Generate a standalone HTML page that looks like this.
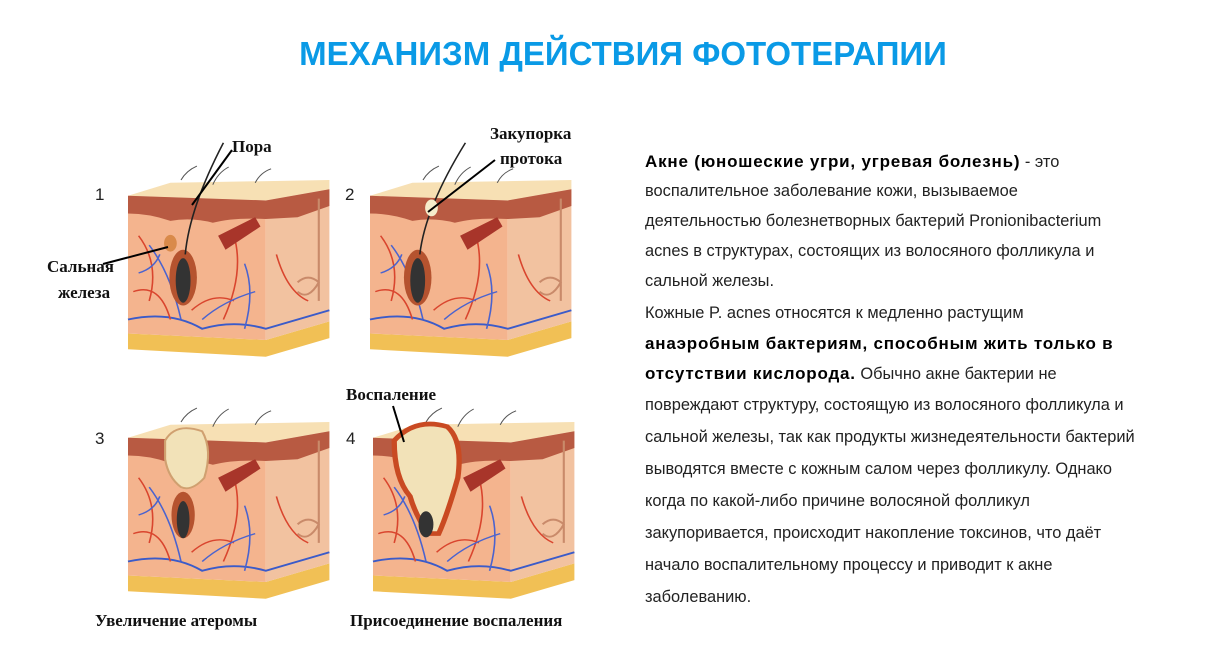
<!DOCTYPE html>
<html><head><meta charset="utf-8"><style>
body{margin:0;width:1211px;height:668px;background:#fff;position:relative;overflow:hidden;font-family:"Liberation Sans",sans-serif}
.t{position:absolute;left:0;width:1246px;top:35px;text-align:center;color:#0a9ae6;font-weight:bold;font-size:33px}
.l{position:absolute;left:645px;font-size:16.4px;color:#222;white-space:nowrap}
.l b{color:#000;letter-spacing:0.8px;font-size:17px}
.lab{font-family:"Liberation Serif",serif;font-weight:bold;font-size:17px;fill:#111}
.num{font-family:"Liberation Sans",sans-serif;font-size:17px;fill:#222}
</style></head><body>
<div class="t">МЕХАНИЗМ ДЕЙСТВИЯ ФОТОТЕРАПИИ</div>
<svg width="620" height="668" style="position:absolute;left:0;top:0">
<defs>
<g id="blk">
<polygon points="0,17 40,3 190,0 190,10 130,22" fill="#f7e0b4"/>
<polygon points="0,165 130,172 190,152 190,170 130,190 0,182" fill="#f1c055"/>
<polygon points="0,17 130,22 130,172 0,165" fill="#f4b48e"/>
<polygon points="130,22 190,10 190,152 130,172" fill="#f2c2a0"/>
<path d="M0,17 L130,22 L190,10 L190,28 L160,40 L130,42 Q100,40 80,46 Q60,40 40,44 Q20,36 0,36 Z" fill="#b85a42"/>
<path d="M0,150 Q40,140 70,160 Q100,150 130,160 L190,140" stroke="#3b5bc9" stroke-width="2" fill="none"/>
<path d="M10,60 Q30,90 20,130 M100,60 Q110,100 90,150 M140,80 Q150,120 170,130 M60,140 Q80,120 100,130 M5,120 Q30,110 40,150" stroke="#d9452e" stroke-width="1.5" fill="none"/>
<path d="M20,70 Q40,100 50,150 M110,90 Q120,120 110,160 M70,150 Q90,130 120,120 M10,100 Q25,95 30,80" stroke="#4a63cf" stroke-width="1.5" fill="none"/>
<path d="M180,20 L180,130 M160,110 q10,-10 20,0 q-10,20 -20,10" stroke="#c98a6a" stroke-width="2" fill="none"/>
<path d="M85,60 L120,40 L125,50 L92,75 Z" fill="#a8352a"/>
<path d="M50,0 Q55,-10 65,-15 M80,5 Q85,-8 95,-14 M120,3 Q125,-8 135,-12" stroke="#555" stroke-width="1" fill="none"/>
</g>
</defs>
<g transform="translate(128,180) scale(1.06,0.93)"><use href="#blk"/>
<ellipse cx="52" cy="105" rx="13" ry="30" fill="#b5532f"/><ellipse cx="52" cy="108" rx="7" ry="24" fill="#333"/>
<path d="M54,80 Q58,30 90,-40" stroke="#222" stroke-width="1.5" fill="none"/>
<ellipse cx="40" cy="68" rx="6" ry="9" fill="#d98a4a"/></g>
<g transform="translate(370,180) scale(1.06,0.93)"><use href="#blk"/>
<ellipse cx="45" cy="105" rx="13" ry="30" fill="#b5532f"/><ellipse cx="45" cy="108" rx="7" ry="24" fill="#333"/>
<path d="M47,80 Q52,30 90,-40" stroke="#222" stroke-width="1.5" fill="none"/>
<ellipse cx="58" cy="30" rx="6" ry="9" fill="#f6eccb"/></g>
<g transform="translate(128,422) scale(1.06,0.93)"><use href="#blk"/>
<ellipse cx="52" cy="100" rx="11" ry="25" fill="#b5532f"/><ellipse cx="52" cy="105" rx="6" ry="20" fill="#333"/>
<path d="M35,20 Q45,0 70,10 Q80,30 72,60 Q60,75 50,70 Q38,60 35,40 Z" fill="#f2e2b8" stroke="#d0a070" stroke-width="2"/></g>
<g transform="translate(373,422) scale(1.06,0.93)"><use href="#blk"/>
<path d="M20,20 Q40,-5 70,5 Q85,20 80,60 Q70,100 62,120 L52,120 Q40,100 35,80 Q20,60 20,20 Z" fill="#f2e2b8" stroke="#c94a22" stroke-width="5"/>
<ellipse cx="50" cy="110" rx="7" ry="14" fill="#333"/></g>
<text class="num" x="95" y="200">1</text><text class="num" x="345" y="200">2</text>
<text class="num" x="95" y="444">3</text><text class="num" x="346" y="444">4</text>
<text class="lab" x="232" y="152">Пора</text>
<line x1="232" y1="150" x2="192" y2="205" stroke="#000" stroke-width="2"/>
<text class="lab" x="47" y="272">Сальная</text><text class="lab" x="58" y="298">железа</text>
<line x1="103" y1="264" x2="168" y2="247" stroke="#000" stroke-width="2"/>
<text class="lab" x="490" y="139">Закупорка</text><text class="lab" x="500" y="164">протока</text>
<line x1="495" y1="160" x2="428" y2="212" stroke="#000" stroke-width="2"/>
<text class="lab" x="346" y="400">Воспаление</text>
<line x1="393" y1="406" x2="404" y2="442" stroke="#000" stroke-width="2"/>
<text class="lab" x="95" y="626">Увеличение атеромы</text>
<text class="lab" x="350" y="626">Присоединение воспаления</text>
</svg>
<div class="l" style="top:152px"><b>Акне (юношеские угри, угревая болезнь)</b> - это</div>
<div class="l" style="top:182px">воспалительное заболевание кожи, вызываемое</div>
<div class="l" style="top:212px">деятельностью болезнетворных бактерий Pronionibacterium</div>
<div class="l" style="top:242px">acnes в структурах, состоящих из волосяного фолликула и</div>
<div class="l" style="top:272px">сальной железы.</div>
<div class="l" style="top:304px">Кожные P. acnes относятся к медленно растущим</div>
<div class="l" style="top:334px"><b>анаэробным бактериям, способным жить только в</b></div>
<div class="l" style="top:364px"><b>отсутствии кислорода.</b> Обычно акне бактерии не</div>
<div class="l" style="top:396px">повреждают структуру, состоящую из волосяного фолликула и</div>
<div class="l" style="top:428px">сальной железы, так как продукты жизнедеятельности бактерий</div>
<div class="l" style="top:460px">выводятся вместе с кожным салом через фолликулу. Однако</div>
<div class="l" style="top:492px">когда по какой-либо причине волосяной фолликул</div>
<div class="l" style="top:524px">закупоривается, происходит накопление токсинов, что даёт</div>
<div class="l" style="top:556px">начало воспалительному процессу и приводит к акне</div>
<div class="l" style="top:588px">заболеванию.</div>
</body></html>
